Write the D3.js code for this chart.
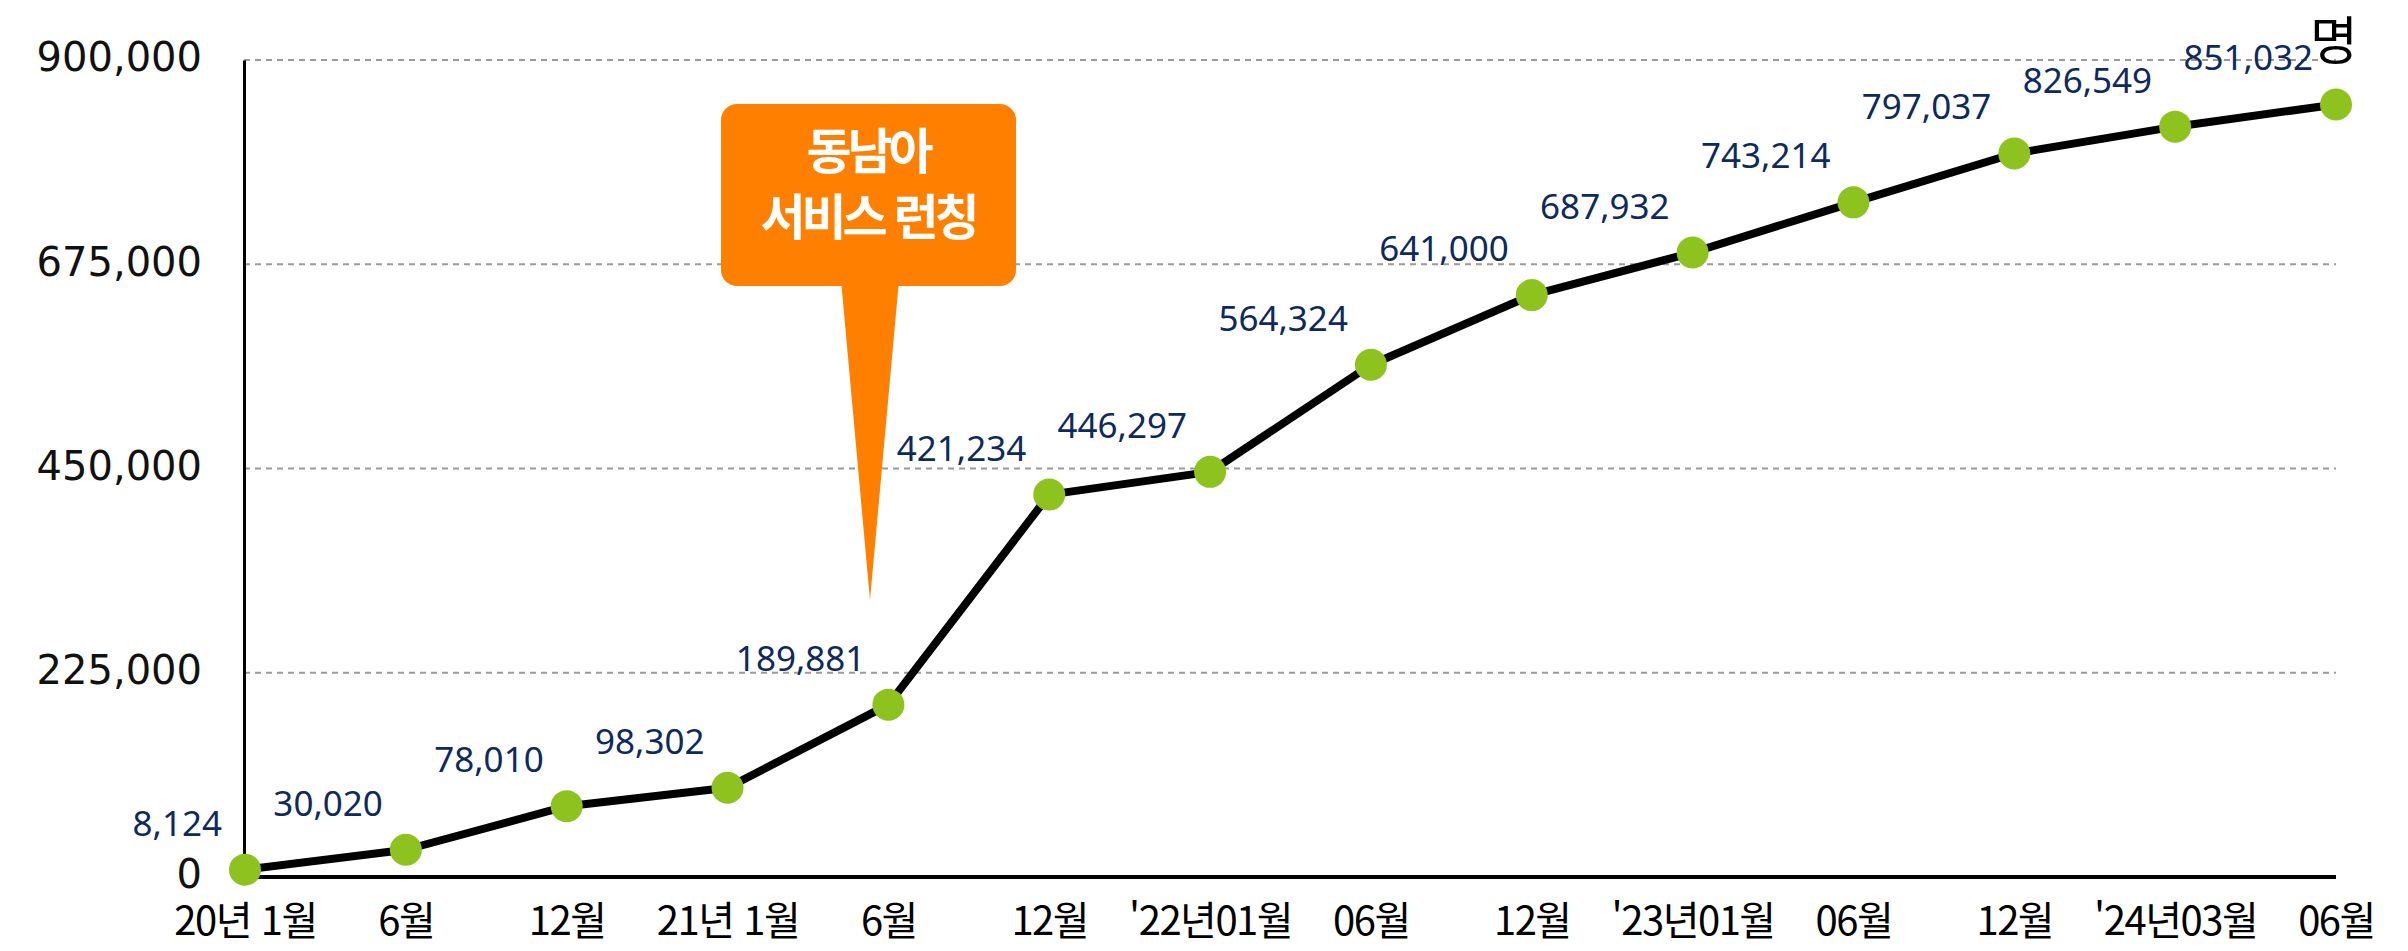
<html lang="ko">
<head>
    <meta charset="utf-8">
    <title>동남아 서비스 이용자 추이</title>
    <style>
        body {
            margin: 0;
            background-color: #ffffff;
        }
        .ylab text {
            font-family: "DejaVu Sans", sans-serif;
            font-size: 40px;
            fill: #111;
        }
        .xlab text {
            font-family: "Noto Sans CJK KR", sans-serif;
            font-size: 40px;
            letter-spacing: -1.5px;
            fill: #000;
        }
        .val {
            font-family: "Noto Sans", sans-serif;
            font-size: 35px;
            fill: #0e2a5c;
        }
        .callout text {
            font-family: "Noto Sans CJK KR", sans-serif;
            font-weight: bold;
            font-size: 49px;
            letter-spacing: -4px;
            fill: #fff;
        }
    </style>
</head>
<body>
<svg id="chart"></svg>
<script src="https://d3js.org/d3.v7.min.js"></script>
<script>
    // data
    var months = ["20년 1월", "6월", "12월", "21년 1월", "6월", "12월", "'22년01월", "06월", "12월",
        "'23년01월", "06월", "12월", "'24년03월", "06월"];
    var users = [8124, 30020, 78010, 98302, 189881, 421234, 446297, 564324, 641000, 687932,
        743214, 797037, 826549, 851032];
    var yTicks = [0, 225000, 450000, 675000, 900000];
    var unit = "명";
    var calloutLines = ["동남아", "서비스 런칭"];

    var width = 2408;
    var height = 951;
    var plotLeft = 244, plotRight = 2336, plotTop = 60, plotBottom = 877;

    var svg = d3.select("#chart")
        .attr("width", width)
        .attr("height", height);

    var x = d3.scalePoint()
        .domain(d3.range(months.length))
        .range([plotLeft + 1, plotRight]);

    var y = d3.scaleLinear()
        .domain([0, 900000])
        .range([plotBottom, plotTop]);

    // dashed grid
    svg.append("g")
        .selectAll("line")
        .data(yTicks.filter(d => d > 0))
        .enter()
        .append("line")
        .attr("x1", plotLeft)
        .attr("x2", plotRight)
        .attr("y1", d => y(d))
        .attr("y2", d => y(d))
        .attr("stroke", "#9a9a9a")
        .attr("stroke-width", 2)
        .attr("stroke-dasharray", "6,5");

    // y axis
    var yAxis = svg.append("g")
        .attr("class", "ylab")
        .attr("transform", "translate(" + plotLeft + ",0)")
        .call(d3.axisLeft(y).tickValues(yTicks).tickSize(0).tickSizeOuter(0)
            .tickPadding(42).tickFormat(d3.format(",")));
    yAxis.select(".domain").attr("stroke", "#000").attr("stroke-width", 3);
    yAxis.selectAll("text").attr("dy", "0.32em").attr("y", -2);

    // x axis
    var xAxis = svg.append("g")
        .attr("class", "xlab")
        .attr("transform", "translate(0," + plotBottom + ")")
        .call(d3.axisBottom(x).tickSize(0).tickSizeOuter(0).tickFormat(i => months[i]));
    xAxis.select(".domain").attr("stroke", "#000").attr("stroke-width", 4)
        .attr("d", "M" + plotLeft + ",0H" + plotRight);
    xAxis.selectAll("text").attr("y", 0).attr("dy", 0).attr("transform", "translate(0,58)");

    // line
    var line = d3.line()
        .x((d, i) => x(i))
        .y(d => y(d));

    svg.append("path")
        .datum(users)
        .attr("d", line)
        .attr("fill", "none")
        .attr("stroke", "#000")
        .attr("stroke-width", 8)
        .attr("stroke-linejoin", "round");

    svg.append("g")
        .selectAll("circle")
        .data(users)
        .enter()
        .append("circle")
        .attr("cx", (d, i) => x(i))
        .attr("cy", d => y(d))
        .attr("r", 16)
        .attr("fill", "#8dc21f");

    // value labels, above-left of each point
    svg.append("g")
        .selectAll("text")
        .data(users)
        .enter()
        .append("text")
        .attr("class", "val")
        .attr("text-anchor", "end")
        .attr("x", (d, i) => x(i) - 23)
        .attr("y", d => y(d) - 34)
        .text(d => d3.format(",")(d));

    // unit
    svg.append("text")
        .attr("x", plotRight - 2)
        .attr("y", 60)
        .attr("text-anchor", "middle")
        .style("font-family", "'Noto Sans CJK KR', sans-serif")
        .style("font-size", "52px")
        .text(unit);

    // callout
    var callout = svg.append("g").attr("class", "callout");
    callout.append("rect")
        .attr("x", 721)
        .attr("y", 104)
        .attr("width", 295)
        .attr("height", 182)
        .attr("rx", 16)
        .attr("fill", "#ff8000");
    callout.append("path")
        .attr("d", "M841,280L899,280L870,600Z")
        .attr("fill", "#ff8000");
    callout.selectAll("text")
        .data(calloutLines)
        .enter()
        .append("text")
        .attr("x", 868)
        .attr("y", (d, i) => 169 + i * 66)
        .attr("text-anchor", "middle")
        .text(d => d);
</script>
</body>
</html>
